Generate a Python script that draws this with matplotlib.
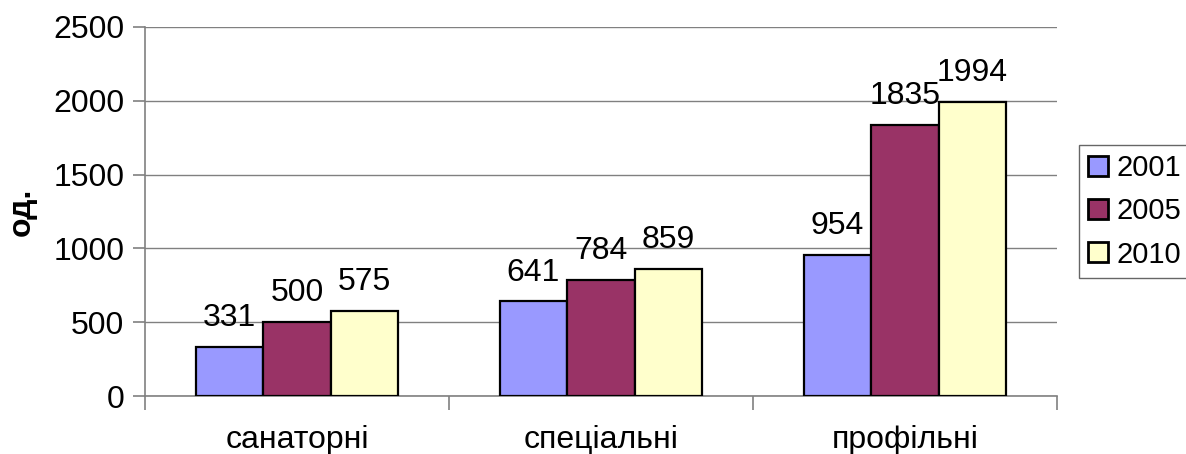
import matplotlib.pyplot as plt
import numpy as np

plt.rcParams['font.family'] = ['Liberation Sans', 'DejaVu Sans']

categories = ['санаторні', 'спеціальні', 'профільні']
years = ['2001', '2005', '2010']
v2001 = [331, 641, 954]
v2005 = [500, 784, 1835]
v2010 = [575, 859, 1994]
colors = ['#9999FF', '#993366', '#FFFFCC']

fs = 23
fig = plt.figure(figsize=(11.86, 4.54), dpi=100)
ax = fig.add_axes([145/1186, 1 - 396/454, (1057-145)/1186, (396-27)/454])

x = np.arange(len(categories))
w = 1/4.5
for i, (vals, col, yr) in enumerate(zip([v2001, v2005, v2010], colors, years)):
    bars = ax.bar(x + (i-1)*w, vals, w, color=col, edgecolor='black', linewidth=1.6,
                  label=yr, zorder=3)
    for b, v in zip(bars, vals):
        ax.annotate(str(v), (b.get_x() + b.get_width()/2, v), xytext=(0, 15),
                    textcoords='offset points', ha='center', va='baseline', fontsize=fs)

ax.set_xlim(-0.5, 2.5)
ax.set_ylim(0, 2500)
ax.set_yticks(np.arange(0, 2501, 500))
ax.yaxis.grid(True, color='#808080', linewidth=1)
ax.set_axisbelow(True)
for s in ['top', 'right']:
    ax.spines[s].set_visible(False)
for s in ['left', 'bottom']:
    ax.spines[s].set_color('#808080')
    ax.spines[s].set_linewidth(1.2)
ax.set_xticks(x)
ax.set_xticklabels(categories)
ax.set_xticks([-0.5, 0.5, 1.5, 2.5], minor=True)
ax.tick_params(axis='x', which='major', length=0, pad=21, labelsize=fs)
ax.tick_params(axis='x', which='minor', length=10, color='#808080', width=1.2)
ax.tick_params(axis='y', length=9, color='#808080', width=1.2, labelsize=fs, pad=6)
ax.set_ylabel('од.', fontsize=fs, fontweight='bold', labelpad=12)

leg = ax.legend(loc='upper left', bbox_to_anchor=(1079/1186, 1 - 145/454),
                bbox_transform=fig.transFigure, fontsize=21, frameon=True,
                fancybox=False, edgecolor='#404040', handlelength=0.68, handleheight=0.68,
                handletextpad=0.3, borderpad=0.32, labelspacing=0.52, borderaxespad=0)
leg.get_frame().set_linewidth(1)
for h in leg.legend_handles:
    h.set_linewidth(2)

fig.savefig('out.png', dpi=100)
